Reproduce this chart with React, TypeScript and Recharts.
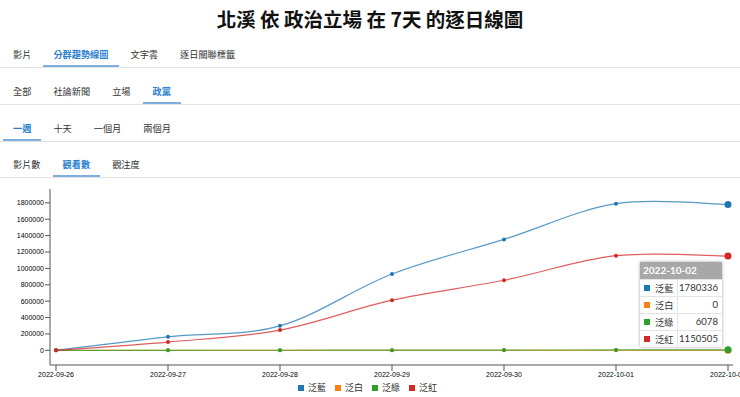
import React from 'react';
import { LineChart, Line, XAxis, YAxis, Tooltip } from 'recharts';

const dates = ['2022-09-26', '2022-09-27', '2022-09-28', '2022-09-29', '2022-09-30', '2022-10-01', '2022-10-02'];
const blueVals = [0, 165000, 299000, 931000, 1354000, 1790000, 1780336];
const whiteVals = [0, 0, 0, 0, 0, 0, 0];
const greenVals = [0, 600, 1200, 2300, 3600, 4900, 6078];
const redVals = [0, 101000, 247000, 612000, 855000, 1155000, 1150505];
const yTicks = [0, 200000, 400000, 600000, 800000, 1000000, 1200000, 1400000, 1600000, 1800000];

const seriesNames = ['泛藍', '泛白', '泛綠', '泛紅'];
const seriesKeys = ['blue', 'white', 'green', 'red'];
const seriesColors = ['#1f77b4', '#ff7f0e', '#2ca02c', '#d62728'];

const title = '北溪 依 政治立場 在 7天 的逐日線圖';
const tabRows: { items: string[]; active: number; sep: number }[] = [
  { items: ['影片', '分群趨勢線圖', '文字雲', '逐日關聯標籤'], active: 1, sep: 67 },
  { items: ['全部', '社論新聞', '立場', '政黨'], active: 3, sep: 104 },
  { items: ['一週', '十天', '一個月', '兩個月'], active: 0, sep: 141 },
  { items: ['影片數', '觀看數', '觀注度'], active: 1, sep: 177 },
];

const data = dates.map((d, i) => ({
  date: d,
  blue: blueVals[i],
  white: whiteVals[i],
  green: greenVals[i],
  red: redVals[i],
}));

const maxV = Math.max(...blueVals, ...redVals);
const yDomain = [-maxV * 0.1, maxV * 1.1];

// Cardinal (tension 0 / Catmull-Rom uniform) curve factory
function cardinalCurve(context: any) {
  let xs: number[] = [];
  let ys: number[] = [];
  return {
    areaStart() {},
    areaEnd() {},
    lineStart() {
      xs = [];
      ys = [];
    },
    lineEnd() {
      const n = xs.length;
      if (!n) return;
      context.moveTo(xs[0], ys[0]);
      for (let i = 0; i < n - 1; i++) {
        const a = Math.max(i - 1, 0);
        const d = Math.min(i + 2, n - 1);
        context.bezierCurveTo(
          xs[i] + (xs[i + 1] - xs[a]) / 6,
          ys[i] + (ys[i + 1] - ys[a]) / 6,
          xs[i + 1] - (xs[d] - xs[i]) / 6,
          ys[i + 1] - (ys[d] - ys[i]) / 6,
          xs[i + 1],
          ys[i + 1]
        );
      }
    },
    point(x: number, y: number) {
      xs.push(+x);
      ys.push(+y);
    },
  };
}

const cjk = '"Noto Sans CJK TC", "Noto Sans", sans-serif';

function TipContent(props: any) {
  const { active, payload, label } = props;
  if (!active || !payload || !payload.length) return null;
  const byKey: Record<string, any> = {};
  payload.forEach((p: any) => (byKey[p.dataKey] = p));
  return (
    <div
      style={{
        width: 82,
        background: '#fff',
        boxShadow: '0 0 3px rgba(0,0,0,0.35)',
        fontFamily: cjk,
        fontSize: 9.2,
        color: '#333',
      }}
    >
      <div
        style={{
          background: '#a8a8a8',
          color: '#fff',
          fontWeight: 700,
          height: 17,
          lineHeight: '17px',
          paddingLeft: 3,
          fontSize: 10,
          fontFamily: 'Lato, "Noto Sans", sans-serif',
        }}
      >
        {label}
      </div>
      {seriesKeys.map((k, i) => (
        <div
          key={k}
          style={{
            display: 'flex',
            height: 17,
            lineHeight: '16px',
            borderTop: '1px solid #e4e4e4',
            boxSizing: 'border-box',
          }}
        >
          <div style={{ width: 37, display: 'flex', alignItems: 'center', borderRight: '1px solid #e4e4e4' }}>
            <span style={{ width: 6, height: 6, background: seriesColors[i], marginLeft: 4, marginRight: 5, display: 'inline-block' }} />
            <span>{seriesNames[i]}</span>
          </div>
          <div style={{ flex: 1, textAlign: 'right', paddingRight: 4, fontSize: 9.6, fontFamily: 'Lato, "Noto Sans", sans-serif' }}>
            {byKey[k] ? byKey[k].value : ''}
          </div>
        </div>
      ))}
    </div>
  );
}

function makeDot(color: string) {
  return (p: any) => {
    const { cx, cy, index } = p;
    if (cx == null || cy == null) return <g key={index} />;
    return <circle key={index} cx={cx} cy={cy} r={2} fill={color} stroke="none" />;
  };
}

export default function App() {
  return (
    <div style={{ position: 'absolute', left: 0, top: 0, width: 740, height: 397, background: '#fff', overflow: 'hidden' }}>
      <div
        style={{
          position: 'absolute',
          top: 4,
          left: 0,
          width: 740,
          textAlign: 'center',
          fontFamily: cjk,
          fontWeight: 700,
          fontSize: 19.5,
          lineHeight: '30px',
          color: '#111',
        }}
      >
        {title}
      </div>
      {tabRows.map((row, ri) => (
        <React.Fragment key={ri}>
          <div style={{ position: 'absolute', left: 0, top: row.sep, width: 740, height: 1, background: '#e3e3e3' }} />
          <div style={{ position: 'absolute', left: 3, top: row.sep - 26, height: 26, display: 'flex' }}>
            {row.items.map((t, ti) => (
              <div
                key={ti}
                style={{
                  position: 'relative',
                  padding: '0 10px',
                  marginRight: 2,
                  height: 26,
                  lineHeight: '26px',
                  fontFamily: cjk,
                  fontSize: 9.2,
                  color: ti === row.active ? '#2a7fd1' : '#333',
                  fontWeight: ti === row.active ? 700 : 400,
                  whiteSpace: 'nowrap',
                }}
              >
                {t}
                {ti === row.active && (
                  <div style={{ position: 'absolute', left: 0, right: 0, bottom: 0, height: 2, background: '#7eaedb' }} />
                )}
              </div>
            ))}
          </div>
        </React.Fragment>
      ))}
      <div style={{ position: 'absolute', left: 0, top: 180 }}>
        <LineChart width={740} height={217} data={data} margin={{ top: 9, right: 7, left: 0, bottom: 0 }}>
          <XAxis
            dataKey="date"
            padding={{ left: 6, right: 5 }}
            interval={0}
            height={32}
            tick={{ fontSize: 7, fill: '#000', fontFamily: '"Liberation Sans", Arial, sans-serif' }}
            tickSize={6}
            tickMargin={1}
            stroke="#555"
          />
          <YAxis
            type="number"
            domain={yDomain}
            ticks={yTicks}
            allowDataOverflow
            width={50}
            tick={{ fontSize: 7, fill: '#000', fontFamily: '"Liberation Sans", Arial, sans-serif' }}
            tickSize={5}
            tickMargin={1}
            stroke="#555"
          />
          <Tooltip
            defaultIndex={6}
            active={true}
            cursor={false}
            position={{ x: 640, y: 82 }}
            content={<TipContent />}
            isAnimationActive={false}
            wrapperStyle={{ outline: 'none' }}
          />
          {seriesKeys.map((k, i) => (
            <Line
              key={k}
              dataKey={k}
              name={seriesNames[i]}
              type={cardinalCurve as any}
              stroke={seriesColors[i]}
              strokeOpacity={0.75}
              strokeWidth={1.2}
              dot={makeDot(seriesColors[i])}
              activeDot={{ r: 3.5, fill: seriesColors[i], stroke: 'none' }}
              isAnimationActive={false}
            />
          ))}
        </LineChart>
      </div>
      <div style={{ position: 'absolute', left: 298, top: 382, height: 12, display: 'flex', alignItems: 'center' }}>
        {seriesNames.map((n, i) => (
          <div key={n} style={{ display: 'flex', alignItems: 'center', marginRight: 9 }}>
            <span style={{ width: 6, height: 6, background: seriesColors[i], display: 'inline-block', marginRight: 4 }} />
            <span style={{ fontFamily: cjk, fontSize: 9, color: '#333', lineHeight: '12px' }}>{n}</span>
          </div>
        ))}
      </div>
    </div>
  );
}
